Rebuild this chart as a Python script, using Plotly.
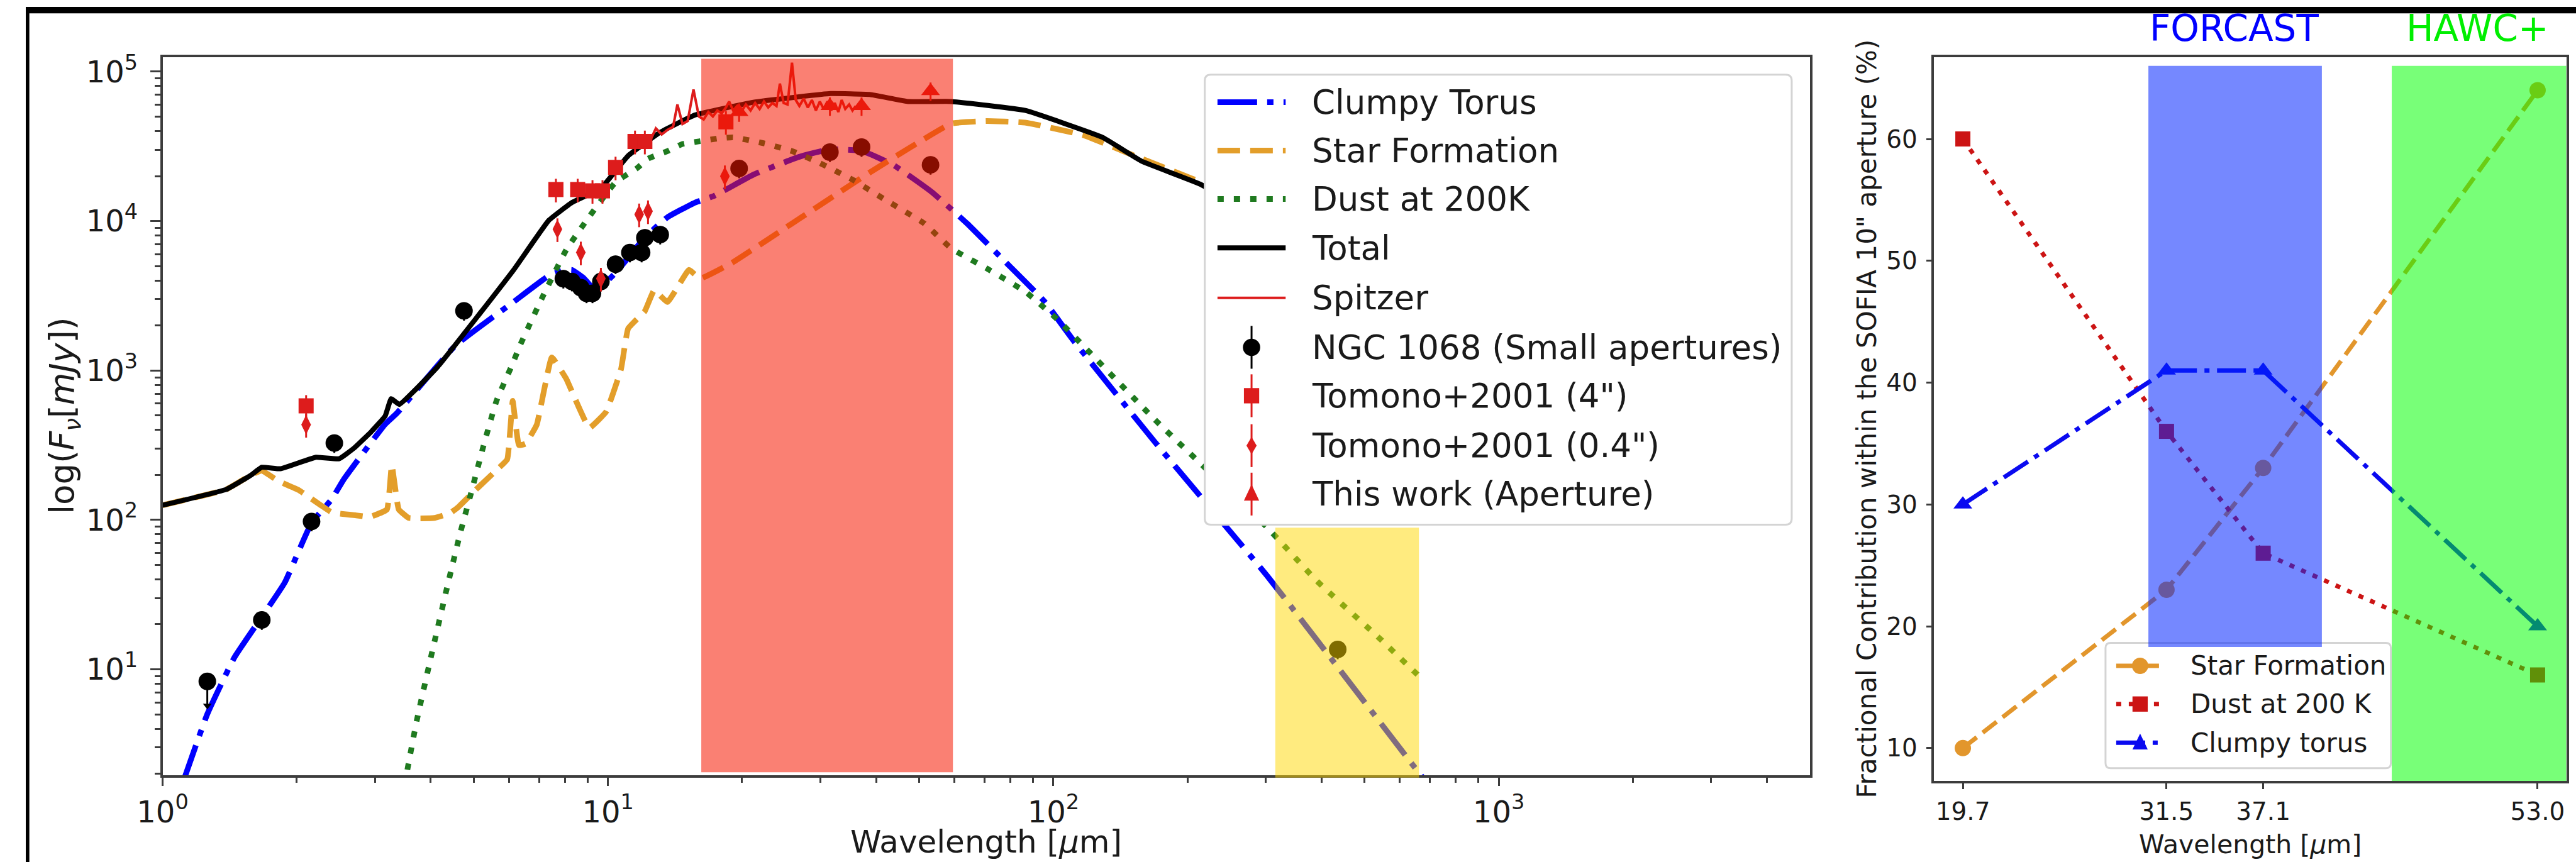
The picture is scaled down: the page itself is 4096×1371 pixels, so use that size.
import plotly.graph_objects as go

# ---------------- geometry helpers (reference pixel grid -> paper) ----------------
REF_W, REF_H = 5014, 1678
OUT_W, OUT_H = 4096, 1371


def px(x):
    return x / REF_W


def py(y):
    return 1 - y / REF_H


FONT = "DejaVu Sans"
TXT = "#1a1a1a"
SPINE = "#3c3c3c"

# ---------------- left panel: SED of NGC 1068 ----------------
# wavelengths in micron, fluxes stored as log10(F_nu / mJy)
torus_wl = [1.11, 1.26, 1.45, 1.67, 1.88, 2.16, 2.40, 2.55, 3.16, 3.36, 4.54, 6.14, 7.36, 7.94, 8.30,
            8.81, 9.38, 10.4, 12.1, 13.6, 15.7, 17.3, 21.2, 26.9, 31.6, 37.2, 43.7, 53.3, 64.0, 78.2,
            95.5, 111, 169, 303, 667, 720]
torus_logf = [0.24, 0.70, 1.08, 1.35, 1.58, 1.98, 2.14, 2.27, 2.64, 2.715, 3.165, 3.459, 3.633, 3.67,
              3.673, 3.62, 3.537, 3.653, 3.89, 4.025, 4.124, 4.168, 4.31, 4.43, 4.48, 4.468, 4.376,
              4.195, 3.984, 3.724, 3.462, 3.20, 2.521, 1.62, 0.294, 0.17]

sf_wl = [1.00, 1.39, 1.58, 1.67, 1.82, 2.02, 2.40, 2.72, 2.92, 3.19, 3.27, 3.39, 3.57, 4.08, 4.43,
         4.61, 5.07, 5.62, 5.94, 6.11, 6.31, 6.53, 6.92, 7.48, 8.05, 9.08, 9.91, 10.7, 11.1, 12.1,
         12.7, 13.6, 15.2, 16.1, 19.1, 25.9, 38.7, 59.0, 70.8, 86.5, 117, 158, 214, 316, 501, 661]
sf_logf = [2.098, 2.204, 2.30, 2.33, 2.26, 2.20, 2.05, 2.03, 2.02, 2.07, 2.368, 2.07, 2.013, 2.013,
           2.047, 2.085, 2.207, 2.333, 2.405, 2.797, 2.50, 2.51, 2.637, 3.087, 2.947, 2.616, 2.725,
           3.01, 3.281, 3.397, 3.537, 3.458, 3.673, 3.615, 3.725, 3.984, 4.325, 4.652, 4.669, 4.659,
           4.574, 4.417, 4.26, 3.95, 3.5, 3.2]

dust_wl = [3.50, 3.54, 3.72, 4.03, 4.38, 4.67, 4.92, 5.27, 5.62, 6.11, 6.34, 7.14, 8.07, 8.95, 10.4,
           11.6, 12.3, 13.6, 14.7, 16.0, 17.7, 19.1, 22.4, 25.9, 29.8, 35.6, 42.0, 51.3, 59.0, 70.8,
           86.5, 102, 169, 303, 390, 546, 667]
dust_logf = [0.22, 0.318, 0.655, 1.119, 1.583, 1.924, 2.173, 2.51, 2.797, 3.046, 3.165, 3.496, 3.81,
             4.004, 4.26, 4.352, 4.417, 4.468, 4.516, 4.533, 4.553, 4.56, 4.52, 4.468, 4.39, 4.273,
             4.141, 3.984, 3.817, 3.684, 3.527, 3.343, 2.671, 1.945, 1.593, 1.194, 0.945]

total_wl = [1.00, 1.39, 1.58, 1.67, 1.84, 2.21, 2.49, 2.69, 2.94, 3.16, 3.26, 3.40, 4.15, 6.14, 7.36,
            8.30, 9.64, 11.1, 13.1, 15.7, 21.2, 31.6, 38.7, 47.2, 59.0, 86.5, 129, 158, 214, 316, 501, 661]
total_logf = [2.098, 2.204, 2.30, 2.352, 2.342, 2.419, 2.409, 2.48, 2.59, 2.695, 2.811, 2.773, 3.026,
              3.673, 4.004, 4.124, 4.219, 4.437, 4.594, 4.71, 4.795, 4.853, 4.847, 4.80, 4.80, 4.74,
              4.56, 4.40, 4.246, 3.95, 3.5, 3.2]

spitzer_wl = [12.0, 12.4, 12.81, 13.2, 13.6, 14.0, 14.32, 14.7, 15.1, 15.56, 16.0, 16.4, 16.8, 17.2,
              17.6, 18.0, 18.4, 18.71, 19.1, 19.5, 19.9, 20.4, 20.9, 21.4, 21.9, 22.4, 22.9, 23.4,
              23.9, 24.32, 24.8, 25.3, 25.89, 26.4, 26.9, 27.5, 28.1, 28.7, 29.3, 29.9, 30.5, 31.1,
              31.7, 32.3, 32.9, 33.48, 34.1, 34.8, 35.4, 36.0]
spitzer_logf = [4.49, 4.53, 4.62, 4.58, 4.61, 4.63, 4.78, 4.65, 4.67, 4.88, 4.70, 4.68, 4.73, 4.70,
                4.74, 4.72, 4.76, 4.80, 4.74, 4.77, 4.73, 4.78, 4.74, 4.79, 4.75, 4.80, 4.76, 4.79,
                4.77, 4.92, 4.79, 4.78, 5.06, 4.81, 4.77, 4.82, 4.76, 4.81, 4.74, 4.80, 4.75, 4.80,
                4.74, 4.79, 4.73, 4.81, 4.75, 4.78, 4.74, 4.77]

# photometry
ngc_wl = [1.67, 2.16, 2.43, 4.75, 7.94, 8.30, 8.69, 8.95, 9.23, 9.64, 10.4, 11.2, 11.9, 12.1, 13.1,
          19.7, 31.5, 37.1, 53.0, 435]
ngc_logf = [1.330, 1.989, 2.514, 3.399, 3.614, 3.595, 3.554, 3.516, 3.516, 3.595, 3.711, 3.789, 3.789,
            3.888, 3.909, 4.352, 4.461, 4.495, 4.376, 1.133]
ngc_ulim_wl = [1.26]
ngc_ulim_logf = [0.919]
ngc_ulim_arrow_logf = [0.757]

tomono4_wl = [2.10, 7.64, 8.55, 9.23, 9.72, 10.4, 11.5, 12.1, 18.4]
tomono4_logf = [2.763, 4.211, 4.211, 4.202, 4.202, 4.359, 4.533, 4.533, 4.664]

tomono04_wl = [2.10, 7.70, 8.69, 9.64, 11.75, 12.3, 18.3]
tomono04_logf = [2.637, 3.946, 3.79, 3.615, 4.045, 4.066, 4.30]

thiswork_wl = [19.7, 31.5, 37.1, 53.0]
thiswork_logf = [4.73, 4.77, 4.77, 4.87]

# shaded wavelength windows (micron)
red_window = [16.2, 59.5]
yellow_window = [315, 662]

# ---------------- right panel: fractional contributions ----------------
band_um = [19.7, 31.5, 37.1, 53.0]
band_labels = ["19.7", "31.5", "37.1", "53.0"]
sf_pct = [10, 23, 33, 64]
dust_pct = [60, 36, 26, 16]
torus_pct = [30, 41, 41, 20]
forcast_window = [30.45, 40.5]
hawc_window = [44.55, 54.665]


def lin(vals):
    return [10 ** v for v in vals]


C_BLUE = "#0000FF"
C_ORANGE = "#E39E2A"
C_GREEN = "#1f7a1f"
C_RED = "#DD1C1C"

DASHDOT = "63px,16px,10px,16px"
DASHED = "36px,16px"
DOTTED = "10px,16px"

R_ORANGE = "#E2962C"
R_RED = "#CC1414"
R_BLUE = "#0A0AF0"
R_DASH = "28px,12px"
R_DOT = "8px,12px"
R_DASHDOT = "46px,12px,8px,12px"

fig = go.Figure()

# model curves
fig.add_trace(go.Scatter(x=torus_wl, y=lin(torus_logf), mode="lines", name="Clumpy Torus",
                         line=dict(color=C_BLUE, width=9, dash=DASHDOT, shape="spline", smoothing=0.4),
                         xaxis="x", yaxis="y", showlegend=False))
fig.add_trace(go.Scatter(x=sf_wl, y=lin(sf_logf), mode="lines", name="Star Formation",
                         line=dict(color=C_ORANGE, width=9, dash=DASHED, shape="spline", smoothing=0.3),
                         xaxis="x", yaxis="y", showlegend=False))
fig.add_trace(go.Scatter(x=dust_wl, y=lin(dust_logf), mode="lines", name="Dust at 200K",
                         line=dict(color=C_GREEN, width=9, dash=DOTTED, shape="spline", smoothing=0.4),
                         xaxis="x", yaxis="y", showlegend=False))
fig.add_trace(go.Scatter(x=total_wl, y=lin(total_logf), mode="lines", name="Total",
                         line=dict(color="black", width=8, shape="spline", smoothing=0.3),
                         xaxis="x", yaxis="y", showlegend=False))
fig.add_trace(go.Scatter(x=spitzer_wl, y=lin(spitzer_logf), mode="lines", name="Spitzer",
                         line=dict(color=C_RED, width=4),
                         xaxis="x", yaxis="y", showlegend=False))

# photometric points
fig.add_trace(go.Scatter(x=ngc_wl, y=lin(ngc_logf), mode="markers", name="NGC 1068 (Small apertures)",
                         marker=dict(symbol="circle", size=28, color="black"),
                         error_y=dict(type="percent", value=14, color="black", thickness=3, width=0),
                         xaxis="x", yaxis="y", showlegend=False))
ulim_y = lin(ngc_ulim_logf)
ulim_minus = [a - b for a, b in zip(ulim_y, lin(ngc_ulim_arrow_logf))]
fig.add_trace(go.Scatter(x=ngc_ulim_wl, y=ulim_y, mode="markers",
                         marker=dict(symbol="circle", size=28, color="black"),
                         error_y=dict(type="data", symmetric=False, array=[0], arrayminus=ulim_minus,
                                      color="black", thickness=3, width=0),
                         xaxis="x", yaxis="y", showlegend=False))
fig.add_trace(go.Scatter(x=ngc_ulim_wl, y=lin(ngc_ulim_arrow_logf), mode="markers",
                         marker=dict(symbol="triangle-down", size=12, color="black"),
                         xaxis="x", yaxis="y", showlegend=False))
fig.add_trace(go.Scatter(x=tomono4_wl, y=lin(tomono4_logf), mode="markers", name='Tomono+2001 (4")',
                         marker=dict(symbol="square", size=24, color=C_RED),
                         error_y=dict(type="percent", value=18, color=C_RED, thickness=3, width=0),
                         xaxis="x", yaxis="y", showlegend=False))
fig.add_trace(go.Scatter(x=tomono04_wl, y=lin(tomono04_logf), mode="markers", name='Tomono+2001 (0.4")',
                         marker=dict(symbol="diamond-tall", size=22, color=C_RED),
                         error_y=dict(type="percent", value=18, color=C_RED, thickness=3, width=0),
                         xaxis="x", yaxis="y", showlegend=False))
fig.add_trace(go.Scatter(x=thiswork_wl, y=lin(thiswork_logf), mode="markers", name="This work (Aperture)",
                         marker=dict(symbol="triangle-up", size=26, color=C_RED),
                         error_y=dict(type="percent", value=14, color=C_RED, thickness=3, width=0),
                         xaxis="x", yaxis="y", showlegend=False))

# right panel
fig.add_trace(go.Scatter(x=band_um, y=sf_pct, mode="lines+markers", name="Star Formation",
                         line=dict(color=R_ORANGE, width=7, dash=R_DASH),
                         marker=dict(symbol="circle", size=26, color=R_ORANGE),
                         xaxis="x2", yaxis="y2", showlegend=False))
fig.add_trace(go.Scatter(x=band_um, y=dust_pct, mode="lines+markers", name="Dust at 200 K",
                         line=dict(color=R_RED, width=7, dash=R_DOT),
                         marker=dict(symbol="square", size=24, color=R_RED),
                         xaxis="x2", yaxis="y2", showlegend=False))
fig.add_trace(go.Scatter(x=band_um, y=torus_pct, mode="lines+markers", name="Clumpy torus",
                         line=dict(color=R_BLUE, width=7, dash=R_DASHDOT),
                         marker=dict(symbol="triangle-up", size=26, color=R_BLUE),
                         xaxis="x2", yaxis="y2", showlegend=False))

# ---------------- axes ----------------
minor_x = [m * 10 ** k for k in range(0, 4) for m in range(2, 10) if m * 10 ** k < 5000]
minor_y = [m * 10 ** k for k in range(0, 5) for m in range(2, 10)]

axis_common = dict(showline=True, mirror=True, linecolor=SPINE, linewidth=3.5, showgrid=False,
                   zeroline=False, ticks="outside", tickcolor=SPINE, tickwidth=3,
                   tickfont=dict(family=FONT, size=48, color=TXT))

fig.update_layout(
    xaxis=dict(type="log", range=[0, 3.69897], domain=[px(269), px(3508)], anchor="y",
               tickmode="array", tickvals=[1, 10, 100, 1000],
               ticktext=["10<sup>0</sup>", "10<sup>1</sup>", "10<sup>2</sup>", "10<sup>3</sup>"],
               ticklen=13, ticklabelstandoff=0,
               minor=dict(tickmode="array", tickvals=minor_x, ticks="outside", ticklen=8,
                          tickwidth=2.5, tickcolor=SPINE),
               **axis_common),
    yaxis=dict(type="log", range=[0.29, 5.0955], domain=[py(1508), py(99)], anchor="x",
               tickmode="array", tickvals=[10, 100, 1000, 10000, 100000],
               ticktext=["10<sup>1</sup>", "10<sup>2</sup>", "10<sup>3</sup>", "10<sup>4</sup>",
                         "10<sup>5</sup>"],
               ticklen=16, ticklabelstandoff=10,
               minor=dict(tickmode="array", tickvals=minor_y, ticks="outside", ticklen=9,
                          tickwidth=2.5, tickcolor=SPINE),
               **axis_common),
)
axis_right = dict(axis_common)
axis_right["tickfont"] = dict(family=FONT, size=39, color=TXT)
fig.update_layout(
    xaxis2=dict(range=[18.035, 54.665], domain=[px(3752), px(4995)], anchor="y2",
                tickmode="array", tickvals=band_um, ticktext=band_labels, ticklen=9,
                ticklabelstandoff=2, **axis_right),
    yaxis2=dict(range=[7.3, 66.7], domain=[py(1519), py(99)], anchor="x2",
                tickmode="array", tickvals=[10, 20, 30, 40, 50, 60], ticklen=9,
                ticklabelstandoff=6, **axis_right),
)

# ---------------- shapes ----------------
shapes = []
# dark border strips
shapes.append(dict(type="rect", xref="paper", yref="paper", x0=0, x1=1, y0=py(12.5), y1=1,
                   fillcolor="black", line=dict(width=0), layer="above"))
shapes.append(dict(type="rect", xref="paper", yref="paper", x0=0, x1=px(7), y0=0, y1=1,
                   fillcolor="black", line=dict(width=0), layer="above"))

# translucent wavelength windows on the SED
shapes.append(dict(type="rect", xref="x", yref="y domain", x0=red_window[0], x1=red_window[1],
                   y0=0.0043, y1=0.998, fillcolor="rgba(246,24,0,0.55)", line=dict(width=0),
                   layer="above"))
shapes.append(dict(type="rect", xref="x", yref="y domain", x0=yellow_window[0], x1=yellow_window[1],
                   y0=-0.003, y1=(1508 - 1022) / 1409, fillcolor="rgba(255,215,0,0.5)",
                   line=dict(width=0), layer="above"))


def rounded_box(x0, y0, x1, y1, r):
    pts = [
        f"M {px(x0 + r)},{py(y0)}", f"L {px(x1 - r)},{py(y0)}", f"Q {px(x1)},{py(y0)} {px(x1)},{py(y0 + r)}",
        f"L {px(x1)},{py(y1 - r)}", f"Q {px(x1)},{py(y1)} {px(x1 - r)},{py(y1)}",
        f"L {px(x0 + r)},{py(y1)}", f"Q {px(x0)},{py(y1)} {px(x0)},{py(y1 - r)}",
        f"L {px(x0)},{py(y0 + r)}", f"Q {px(x0)},{py(y0)} {px(x0 + r)},{py(y0)}", "Z",
    ]
    return " ".join(pts)


def hline(x0, x1, y, color, width, dash="solid"):
    return dict(type="line", xref="paper", yref="paper", x0=px(x0), x1=px(x1), y0=py(y), y1=py(y),
                line=dict(color=color, width=width, dash=dash), layer="above")


def vline(x, y0, y1, color, width):
    return dict(type="line", xref="paper", yref="paper", x0=px(x), x1=px(x), y0=py(y0), y1=py(y1),
                line=dict(color=color, width=width), layer="above")


def circle(cx, cy, r, color):
    return dict(type="circle", xref="paper", yref="paper", x0=px(cx - r), x1=px(cx + r),
                y0=py(cy + r), y1=py(cy - r), fillcolor=color, line=dict(width=0), layer="above")


def poly(points, color):
    d = "M " + " L ".join(f"{px(a)},{py(b)}" for a, b in points) + " Z"
    return dict(type="path", xref="paper", yref="paper", path=d, fillcolor=color,
                line=dict(width=0), layer="above")


# left legend
shapes.append(dict(type="path", xref="paper", yref="paper", path=rounded_box(2318, 133, 3472, 1016, 12),
                   fillcolor="white", line=dict(color="#d4d4d4", width=3), layer="above"))
rows = [187, 282, 377, 473, 571, 668, 763, 861, 956]
hx0, hx1, hc = 2343, 2477, 2410
shapes.append(hline(hx0, hx1, rows[0], C_BLUE, 9, DASHDOT))
shapes.append(hline(hx0, hx1, rows[1], C_ORANGE, 9, DASHED))
shapes.append(hline(hx0, hx1, rows[2], C_GREEN, 9, DOTTED))
shapes.append(hline(hx0, hx1, rows[3], "black", 8))
shapes.append(hline(hx0, hx1, rows[4], C_RED, 4))
for r, col in zip(rows[5:], ["black", C_RED, C_RED, C_RED]):
    shapes.append(vline(hc, r - 42, r + 42, col, 3))
shapes.append(circle(hc, rows[5], 17, "black"))
shapes.append(dict(type="rect", xref="paper", yref="paper", x0=px(hc - 15), x1=px(hc + 15),
                   y0=py(rows[6] + 15), y1=py(rows[6] - 15), fillcolor=C_RED, line=dict(width=0),
                   layer="above"))
shapes.append(poly([(hc, rows[7] - 17), (hc + 10, rows[7]), (hc, rows[7] + 17), (hc - 10, rows[7])], C_RED))
shapes.append(poly([(hc, rows[8] - 19), (hc + 15, rows[8] + 13), (hc - 15, rows[8] + 13)], C_RED))

# right legend
shapes.append(dict(type="path", xref="paper", yref="paper", path=rounded_box(4089, 1248, 4650, 1494, 10),
                   fillcolor="white", line=dict(color="#d4d4d4", width=3), layer="above"))
rrows = [1293, 1368, 1444]
rx0, rx1, rc = 4110, 4203, 4157
shapes.append(hline(rx0, rx1, rrows[0], R_ORANGE, 7, R_DASH))
shapes.append(circle(rc, rrows[0], 16, R_ORANGE))
shapes.append(hline(rx0, rx1, rrows[1], R_RED, 7, R_DOT))
shapes.append(dict(type="rect", xref="paper", yref="paper", x0=px(rc - 15), x1=px(rc + 15),
                   y0=py(rrows[1] + 15), y1=py(rrows[1] - 15), fillcolor=R_RED, line=dict(width=0),
                   layer="above"))
shapes.append(hline(rx0, rx1, rrows[2], R_BLUE, 7, R_DASHDOT))
shapes.append(poly([(rc, rrows[2] - 18), (rc + 15, rrows[2] + 13), (rc - 15, rrows[2] + 13)], R_BLUE))

# instrument windows on the contribution panel
shapes.append(dict(type="rect", xref="x2", yref="y2", x0=forcast_window[0], x1=forcast_window[1],
                   y0=18.3, y1=66, fillcolor="rgba(0,35,255,0.54)", line=dict(width=0), layer="above"))
shapes.append(dict(type="rect", xref="x2", yref="y2", x0=hawc_window[0], x1=hawc_window[1],
                   y0=7.3, y1=66, fillcolor="rgba(0,255,0,0.53)", line=dict(width=0), layer="above"))

# ---------------- text ----------------
ann = []


def text(x, y, s, size, color=TXT, angle=0, xanchor="center", yanchor="middle"):
    ann.append(dict(x=px(x), y=py(y), xref="paper", yref="paper", text=s, showarrow=False,
                    textangle=angle, xanchor=xanchor, yanchor=yanchor,
                    font=dict(family=FONT, size=size, color=color)))


left_labels = ["Clumpy Torus", "Star Formation", "Dust at 200K", "Total", "Spitzer",
               "NGC 1068 (Small apertures)", 'Tomono+2001 (4")', 'Tomono+2001 (0.4")',
               "This work (Aperture)"]
for r, s in zip(rows, left_labels):
    text(2526, r, s, 53, xanchor="left")
for r, s in zip(rrows, ["Star Formation", "Dust at 200 K", "Clumpy torus"]):
    text(4254, r, s, 42, xanchor="left")

text(75, 802, "log(<i>F</i><sub><i>ν</i></sub>[<i>mJy</i>])", 53, angle=-90)
text(1888, 1677, "Wavelength [<i>μ</i>m]", 50, yanchor="bottom")
text(3620, 808, 'Fractional Contribution within the SOFIA 10" aperture (%)', 42, angle=-90)
text(4373, 1676, "Wavelength [<i>μ</i>m]", 41, yanchor="bottom")
text(4342, 42, "FORCAST", 58, color="#0000FF")
text(4820, 42, "HAWC+", 58, color="#00EE00")

fig.update_layout(width=OUT_W, height=OUT_H, margin=dict(l=0, r=0, t=0, b=0), autosize=False,
                  paper_bgcolor="white", plot_bgcolor="white", shapes=shapes, annotations=ann,
                  showlegend=False)

fig.write_html("out.html")
